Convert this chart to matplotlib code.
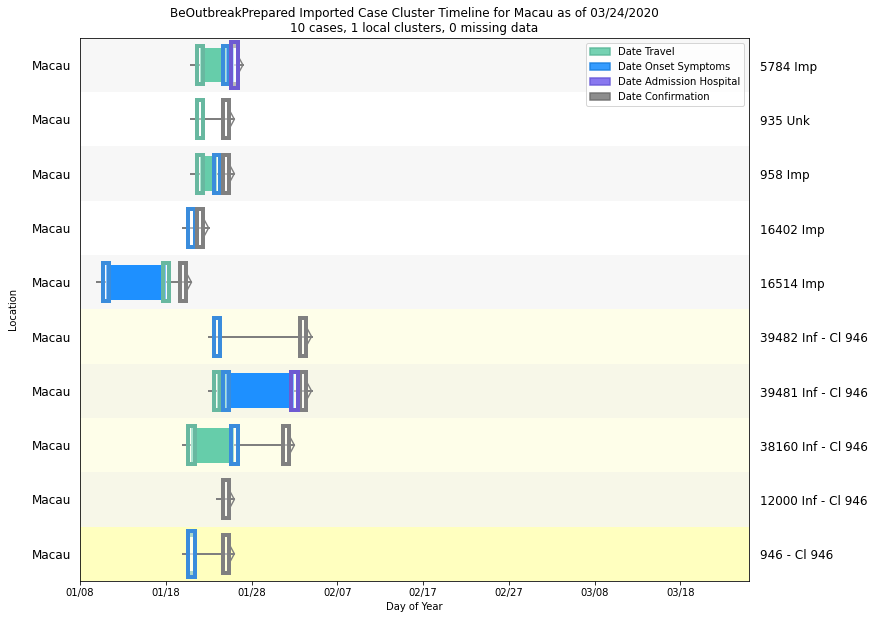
import pandas as pd
import matplotlib
matplotlib.use('Agg')
import matplotlib.pyplot as plt
from matplotlib.patches import Patch
import matplotlib.transforms as mtransforms

#Case data, top row first
CaseLabels = ['5784 Imp', '935 Unk', '958 Imp', '16402 Imp', '16514 Imp',
              '39482 Inf - Cl 946', '39481 Inf - Cl 946', '38160 Inf - Cl 946',
              '12000 Inf - Cl 946', '946 - Cl 946']
Locations = ['Macau'] * 10
DateTravel = ['01/22', '01/22', '01/22', None, '01/18', None, '01/24', '01/21', None, '01/21']
DateOnset = ['01/25', None, '01/24', '01/21', '01/11', '01/24', '01/25', '01/26', None, '01/21']
DateAdmission = ['01/26', None, None, None, None, None, '02/02', None, None, None]
DateConfirm = ['01/26', '01/25', '01/25', '01/22', '01/20', '02/03', '02/03', '02/01', '01/25', '01/25']

TickDays = [8, 18, 28, 38, 48, 58, 68, 78]

#Row background colours
RowColors = ['#f7f7f7', 'white', '#f7f7f7', 'white', '#f7f7f7',
             '#fefee9', '#f7f7e8', '#fefee9', '#f7f7e8', '#ffffbf']

FILL = {'travel': '#66cdaa', 'onset': '#1e90ff'}
EDGE = {'travel': '#68b8a0', 'onset': '#3a8cdc', 'admission': '#6e5ad2', 'confirm': '#808080'}


def doy(s):
    if s is None:
        return None
    return pd.Timestamp('2020/' + s).dayofyear


def label_for(day):
    return (pd.Timestamp('2020-01-01') + pd.Timedelta(days=day - 1)).strftime('%m/%d')


fig, ax = plt.subplots(figsize=(879 / 72, 620 / 72), dpi=72)
fig.subplots_adjust(left=0.091, right=0.852, top=0.939, bottom=0.063)

for i in range(len(CaseLabels)):
    ax.axhspan(i - 0.5, i + 0.5, color=RowColors[i], zorder=0, lw=0)

    ev = {'travel': doy(DateTravel[i]), 'onset': doy(DateOnset[i]),
          'admission': doy(DateAdmission[i]), 'confirm': doy(DateConfirm[i])}
    days = [d for d in ev.values() if d is not None]

    #timeline line + open chevron head
    end = max(days) + 1
    ax.plot([min(days) - 1, end], [i, i], color='#7f7f7f', lw=2, zorder=1)
    ax.plot([end - 0.55, end, end - 0.55], [i - 0.16, i, i + 0.16], color='#7f7f7f',
            lw=1.4, zorder=1, solid_joinstyle='miter')

    #spans between events
    t, o, a = ev['travel'], ev['onset'], ev['admission']
    if t is not None and o is not None and t != o:
        c = FILL['travel'] if t < o else FILL['onset']
        ax.barh(i, width=abs(o - t), left=min(t, o), height=0.64, color=c, lw=0, zorder=2)
    if o is not None and a is not None:
        ax.barh(i, width=a - o, left=o, height=0.64, color=FILL['onset'], lw=0, zorder=2)

    #event boxes
    drawn = []
    for key in ['travel', 'onset', 'confirm', 'admission']:
        d = ev[key]
        if d is None:
            continue
        h = 0.85 if d in drawn else 0.7
        ax.barh(i, width=0.75, left=d - 0.375, height=h, facecolor=(1, 1, 1, 0.45),
                edgecolor=EDGE[key], lw=4, zorder=3)
        drawn.append(d)

ax.set_xlim(8, 86)
ax.set_ylim(len(CaseLabels) - 0.5, -0.5)
ax.set_xticks(TickDays)
ax.set_xticklabels([label_for(d) for d in TickDays], fontsize=10)
ax.set_yticks(range(len(Locations)))
ax.set_yticklabels(Locations, fontsize=12)
ax.tick_params(axis='y', length=0, pad=9)
ax.set_xlabel('Day of Year', fontsize=10)
ax.set_ylabel('Location', fontsize=10, labelpad=14)
ax.set_title('BeOutbreakPrepared Imported Case Cluster Timeline for Macau as of 03/24/2020\n'
             '10 cases, 1 local clusters, 0 missing data', fontsize=12)

trans = mtransforms.blended_transform_factory(ax.transAxes, ax.transData)
for i, lab in enumerate(CaseLabels):
    ax.text(1.016, i + 0.04, lab, transform=trans, fontsize=12, va='center', ha='left')

handles = [Patch(facecolor='#66cdaa', edgecolor='#5cb89a', alpha=0.9, lw=1.5, label='Date Travel'),
           Patch(facecolor='#1e90ff', edgecolor='#1a80e0', alpha=0.9, lw=1.5, label='Date Onset Symptoms'),
           Patch(facecolor='#7b68ee', edgecolor='#6a5ad8', alpha=0.9, lw=1.5, label='Date Admission Hospital'),
           Patch(facecolor='#808080', edgecolor='#6e6e6e', alpha=0.9, lw=1.5, label='Date Confirmation')]
ax.legend(handles=handles, loc='upper right', fontsize=10)

plt.savefig('out.png', dpi=72)
